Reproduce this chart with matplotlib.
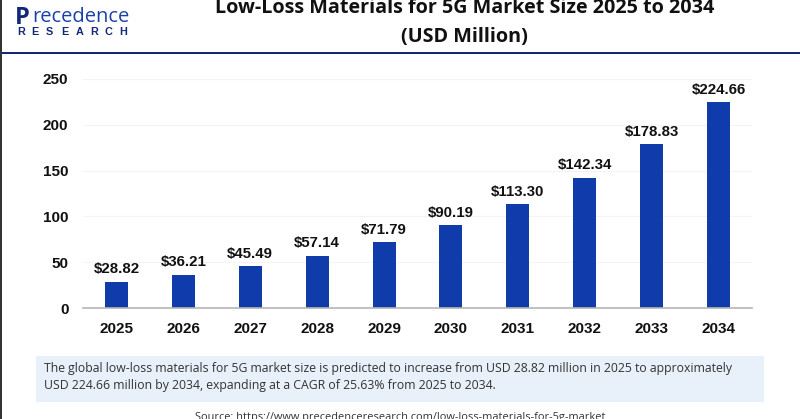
import matplotlib
matplotlib.use('Agg')
import matplotlib.pyplot as plt
from matplotlib.patches import Rectangle

years = ['2025', '2026', '2027', '2028', '2029', '2030', '2031', '2032', '2033', '2034']
values = [28.82, 36.21, 45.49, 57.14, 71.79, 90.19, 113.30, 142.34, 178.83, 224.66]
bar_labels = ['$28.82', '$36.21', '$45.49', '$57.14', '$71.79', '$90.19', '$113.30', '$142.34', '$178.83', '$224.66']
y_ticks = [0, 50, 100, 150, 200, 250]

W, H = 800, 419
BLUE = '#0f3bab'
NAVY = '#14287a'

fig = plt.figure(figsize=(W / 100, H / 100), dpi=100)


# pixel position -> figure fraction
def fx(x):
    return x / W


def fy(y):
    return 1 - y / H


# plot area
ax = fig.add_axes([fx(83), fy(308), (752 - 83) / W, (308 - 79) / H])
ax.bar(range(10), values, width=0.345, color=BLUE)
ax.set_xlim(-0.5, 9.5)
ax.set_ylim(0, 250)
ax.set_xticks(range(10))
ax.set_xticklabels(years)
ax.set_yticks(y_ticks)
ax.grid(axis='y', color='#f4f4f4', linewidth=0.8)
ax.set_axisbelow(True)
for s in ['top', 'right', 'left']:
    ax.spines[s].set_visible(False)
ax.spines['bottom'].set_color('#b5b5b5')
ax.spines['bottom'].set_linewidth(1.2)
ax.tick_params(axis='both', length=0, labelsize=11, labelcolor='#111111')
ax.tick_params(axis='x', pad=10)
ax.tick_params(axis='y', pad=10.5)
for lab in ax.get_xticklabels() + ax.get_yticklabels():
    lab.set_family('Liberation Sans')
    lab.set_fontweight('bold')

for i, v in enumerate(values):
    ax.annotate(bar_labels[i], (i, v), xytext=(0, 4), textcoords='offset points',
                ha='center', va='bottom', fontsize=10.8, fontweight='bold',
                family='Liberation Sans', color='#111111')

# title, cut off a little by the top edge
fig.text(fx(464.5), fy(13), 'Low-Loss Materials for 5G Market Size 2025 to 2034', ha='center', va='baseline',
         fontsize=14.2, fontweight='bold', family='Open Sans', color='#111111')
fig.text(fx(464.5), fy(42), '(USD Million)', ha='center', va='baseline',
         fontsize=14.2, fontweight='bold', family='Open Sans', color='#111111')

# logo
fig.text(fx(15), fy(24), 'P', ha='left', va='baseline', fontsize=17, fontweight='bold',
         family='Open Sans', color=NAVY)
fig.text(fx(32), fy(22), 'recedence', ha='left', va='baseline', fontsize=14.5,
         family='Open Sans', color='#1a3fa8')
for i, letter in enumerate('RESEARCH'):
    fig.text(fx(17 + i * 14.6), fy(35), letter, ha='left', va='baseline', fontsize=7.8,
             fontweight='bold', family='Liberation Sans', color=NAVY)

# header rule and left border
fig.add_artist(Rectangle((0, fy(54)), 1, 1.5 / H, transform=fig.transFigure, color=NAVY, lw=0))
fig.add_artist(Rectangle((0, 0), 1.5 / W, 1, transform=fig.transFigure, color='#333333', lw=0))

# summary box
fig.add_artist(Rectangle((fx(36), fy(402)), (764 - 36) / W, (402 - 356) / H,
                         transform=fig.transFigure, color='#e8f0f9', lw=0))
fig.text(fx(44), fy(368), 'The global low-loss materials for 5G market size is predicted to increase from USD 28.82 million in 2025 to approximately',
         ha='left', va='center', fontsize=8.85, family='Open Sans', color='#333333')
fig.text(fx(44), fy(385), 'USD 224.66 million by 2034, expanding at a CAGR of 25.63% from 2025 to 2034.',
         ha='left', va='center', fontsize=8.85, family='Open Sans', color='#333333')

# source, cut off by the bottom edge
fig.text(fx(400), fy(417), 'Source: https://www.precedenceresearch.com/low-loss-materials-for-5g-market',
         ha='center', va='center', fontsize=7.9, family='Open Sans', color='#333333')

fig.savefig('out.png', dpi=100)
